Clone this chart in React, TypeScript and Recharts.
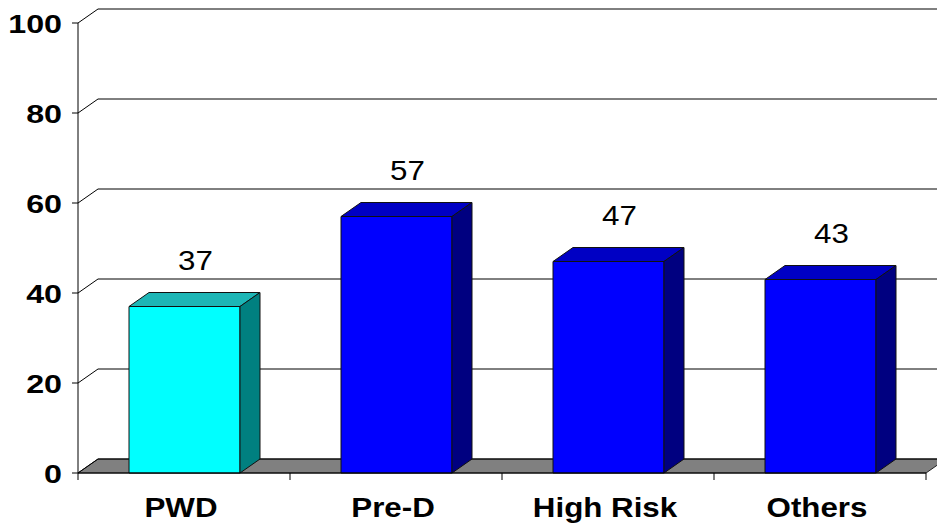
import React from "react";
import { Bar, BarChart, CartesianGrid, Cell, LabelList, XAxis, YAxis } from "recharts";

const categories = ["PWD", "Pre-D", "High Risk", "Others"];
const shares = [37, 57, 47, 43];
const barColors = ["#00FFFF", "#0000FF", "#0000FF", "#0000FF"];
const yTicks = [0, 20, 40, 60, 80, 100];

const data = categories.map((name, i) => ({ name, value: shares[i] }));

const W = 937;
const H = 527;
// offset of the back wall, used for the fake 3D depth
const DX = 20;
const DY = 14;
const MARGIN = { top: 23, right: 11, left: 8, bottom: 14 };
const Y_AXIS_W = 70;
const X_AXIS_H = 40;
const PLOT_LEFT = MARGIN.left + Y_AXIS_W;
const PLOT_BOTTOM = H - MARGIN.bottom - X_AXIS_H;
const PLOT_W = W - PLOT_LEFT - MARGIN.right;
const BAND = PLOT_W / categories.length;

const FONT = '"Liberation Sans", Arial, sans-serif';
const STRETCH = 1.16;

// darker shades for the top and side faces of each box
const shades: Record<string, { top: string; side: string }> = {
  "#00FFFF": { top: "#1DB6B6", side: "#008080" },
  "#0000FF": { top: "#0000C4", side: "#000080" },
};

const Box = (props: any) => {
  const { x, y, width, height, fill } = props;
  const s = shades[fill] || shades["#0000FF"];
  const r = x + width;
  const b = y + height;
  return (
    <g stroke="#111" strokeWidth={1} strokeLinejoin="round">
      <rect x={x} y={y} width={width} height={height} fill={fill} />
      <polygon points={`${x},${y} ${x + DX},${y - DY} ${r + DX},${y - DY} ${r},${y}`} fill={s.top} />
      <polygon points={`${r},${y} ${r + DX},${y - DY} ${r + DX},${b - DY} ${r},${b}`} fill={s.side} />
    </g>
  );
};

const ValueLabel = (props: any) => {
  const x = Number(props.x);
  const y = Number(props.y);
  const width = Number(props.width);
  const cx = x + width / 2 + 11;
  const cy = y - 46;
  return (
    <text
      transform={`translate(${cx},${cy}) scale(${STRETCH},1)`}
      textAnchor="middle"
      dominantBaseline="central"
      fontFamily={FONT}
      fontSize={27}
      fill="#000"
    >
      {props.value}
    </text>
  );
};

const GridLine = (props: any) => {
  const { x1, y1 } = props;
  const bx = x1 + DX;
  const by = y1 - DY;
  const isFloor = Math.abs(y1 - PLOT_BOTTOM) < 0.5;
  return (
    <g>
      {isFloor && (
        <polygon
          points={`${x1},${y1} ${x1 + PLOT_W},${y1} ${x1 + PLOT_W + DX},${by} ${bx},${by}`}
          fill="#808080"
          stroke="#222"
        />
      )}
      <polyline points={`${x1},${y1} ${bx},${by} ${W},${by}`} fill="none" stroke="#000" strokeWidth={1} />
    </g>
  );
};

const YTick = ({ x, y, payload }: any) => (
  <g>
    <line x1={x - 6} x2={x} y1={y} y2={y} stroke="#000" />
    <text
      transform={`translate(${x - 16},${y + 1}) scale(1.24,1)`}
      textAnchor="end"
      dominantBaseline="central"
      fontFamily={FONT}
      fontWeight="bold"
      fontSize={26}
      fill="#000"
    >
      {payload.value}
    </text>
  </g>
);

const XTick = ({ x, y, payload, index }: any) => (
  <g>
    <line x1={x - BAND / 2} x2={x - BAND / 2} y1={y} y2={y + 7} stroke="#000" />
    {index === categories.length - 1 && (
      <line x1={x + BAND / 2} x2={x + BAND / 2} y1={y} y2={y + 7} stroke="#000" />
    )}
    <text
      transform={`translate(${x - 3},${y + 44}) scale(${STRETCH},1)`}
      textAnchor="middle"
      fontFamily={FONT}
      fontWeight="bold"
      fontSize={27}
      fill="#000"
    >
      {payload.value}
    </text>
  </g>
);

export default function App() {
  return (
    <div style={{ position: "fixed", left: 0, top: 0, width: W, height: H, background: "#fff" }}>
      <BarChart width={W} height={H} data={data} margin={MARGIN}>
        <CartesianGrid vertical={false} horizontal={GridLine} />
        <XAxis
          dataKey="name"
          height={X_AXIS_H}
          tickSize={0}
          tickMargin={0}
          tickLine={false}
          axisLine={{ stroke: "#000" }}
          tick={<XTick />}
          interval={0}
        />
        <YAxis
          width={Y_AXIS_W}
          domain={[0, 100]}
          ticks={yTicks}
          tickSize={0}
          tickMargin={0}
          tickLine={false}
          axisLine={{ stroke: "#000" }}
          tick={<YTick />}
          interval={0}
        />
        <Bar dataKey="value" barSize={111} isAnimationActive={false} shape={<Box />}>
          {data.map((d, i) => (
            <Cell key={d.name} fill={barColors[i]} />
          ))}
          <LabelList dataKey="value" content={<ValueLabel />} />
        </Bar>
      </BarChart>
    </div>
  );
}
